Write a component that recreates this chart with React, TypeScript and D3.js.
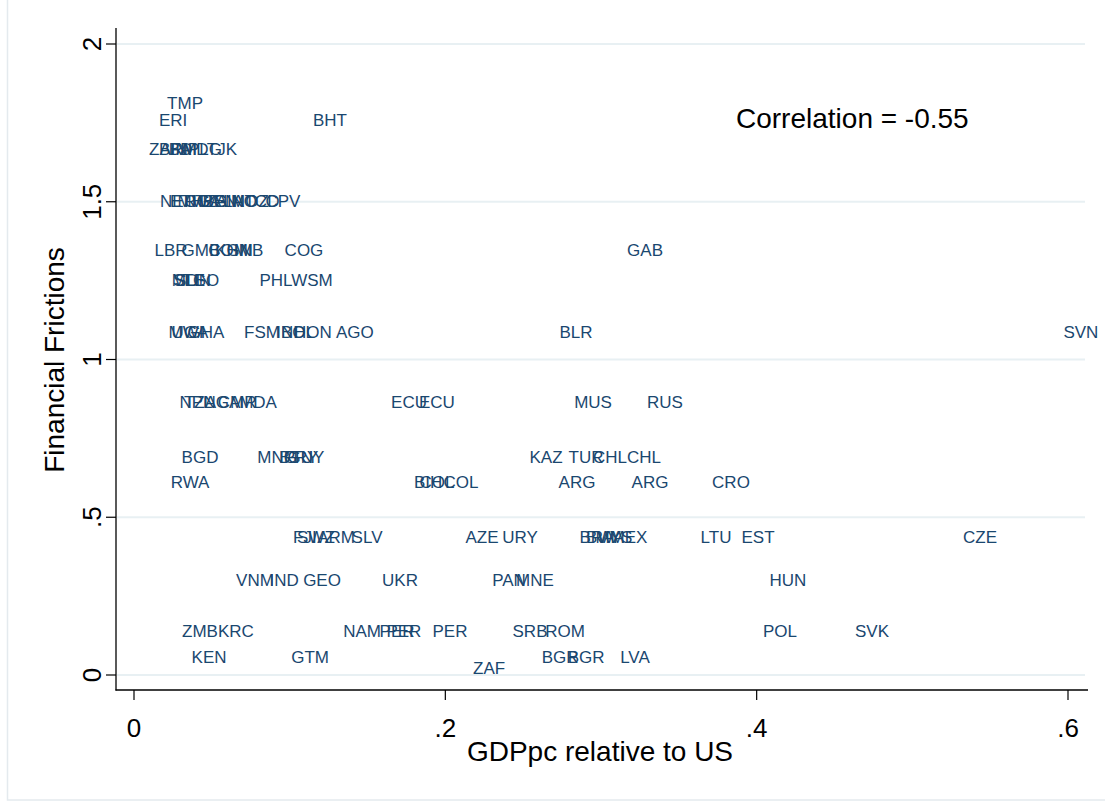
import React from "react";
import * as d3 from "d3";

const codes: string[] = [
  "TMP", "ERI", "BHT",
  "ZAR", "BFA", "BDI", "NPL", "MDG", "TJK",
  "NER", "ETH", "MWI", "UGA", "TZA", "BEN", "GIN", "LAO", "MOZ", "TCD", "CPV",
  "LBR", "GMB", "COM", "KHM", "GNB", "COG", "GAB",
  "MLI", "SLE", "SDN", "TGO", "PHL", "WSM",
  "MWI", "UGA", "GHA", "FSM", "IND", "BOL", "HON", "AGO", "BLR", "SVN",
  "NPL", "TZA", "NGA", "CMR", "MDA", "ECU", "ECU", "MUS", "RUS",
  "BGD", "MNG", "BTN", "PRY", "GUY", "KAZ", "TUR", "CHL", "CHL",
  "RWA", "BIH", "COL", "COL", "ARG", "ARG", "CRO",
  "FJI", "SWZ", "ARM", "SLV", "AZE", "URY", "BRA", "BWA", "MYS", "MEX", "LTU", "EST", "CZE",
  "VNM", "IND", "GEO", "UKR", "PAN", "MNE", "HUN",
  "ZMB", "KRC", "NAM", "PER", "PER", "PER", "SRB", "ROM", "POL", "SVK",
  "KEN", "GTM", "BGR", "BGR", "LVA",
  "ZAF",
];

const gdppc: number[] = [
  0.0328, 0.0251, 0.1259,
  0.0206, 0.0263, 0.0315, 0.0373, 0.0437, 0.0565,
  0.0283, 0.0340, 0.0392, 0.0443, 0.0495, 0.0552, 0.0610, 0.0681, 0.0745, 0.0822, 0.0957,
  0.0238, 0.0430, 0.0604, 0.0642, 0.0713, 0.1092, 0.3283,
  0.0334, 0.0353, 0.0379, 0.0430, 0.0912, 0.1143,
  0.0334, 0.0360, 0.0462, 0.0822, 0.1008, 0.1053, 0.1149, 0.1419, 0.2839, 0.6083,
  0.0398, 0.0424, 0.0565, 0.0662, 0.0797, 0.1767, 0.1946, 0.2949, 0.3411,
  0.0424, 0.0919, 0.1041, 0.1073, 0.1105, 0.2647, 0.2904, 0.3058, 0.3276,
  0.0360, 0.1889, 0.1946, 0.2101, 0.2846, 0.3315, 0.3835,
  0.1098, 0.1169, 0.1298, 0.1497, 0.2236, 0.2480, 0.2974, 0.3026, 0.3083, 0.3180, 0.3739, 0.4009, 0.5435,
  0.0777, 0.0964, 0.1208, 0.1709, 0.2409, 0.2576, 0.4201,
  0.0424, 0.0655, 0.1465, 0.1690, 0.1734, 0.2030, 0.2544, 0.2769, 0.4150, 0.4741,
  0.0482, 0.1131, 0.2737, 0.2904, 0.3218,
  0.2281,
];

const frictions: number[] = [
  1.81, 1.756, 1.756,
  1.667, 1.667, 1.667, 1.667, 1.667, 1.667,
  1.5, 1.5, 1.5, 1.5, 1.5, 1.5, 1.5, 1.5, 1.5, 1.5, 1.5,
  1.347, 1.347, 1.347, 1.347, 1.347, 1.347, 1.347,
  1.249, 1.249, 1.249, 1.249, 1.249, 1.249,
  1.087, 1.087, 1.087, 1.087, 1.087, 1.087, 1.087, 1.087, 1.087, 1.087,
  0.865, 0.865, 0.865, 0.865, 0.865, 0.865, 0.865, 0.865, 0.865,
  0.688, 0.688, 0.688, 0.688, 0.688, 0.688, 0.688, 0.688, 0.688,
  0.609, 0.609, 0.609, 0.609, 0.609, 0.609, 0.609,
  0.437, 0.437, 0.437, 0.437, 0.437, 0.437, 0.437, 0.437, 0.437, 0.437, 0.437, 0.437, 0.437,
  0.298, 0.298, 0.298, 0.298, 0.298, 0.298, 0.298,
  0.139, 0.139, 0.139, 0.139, 0.139, 0.139, 0.139, 0.139, 0.139, 0.139,
  0.057, 0.057, 0.057, 0.057, 0.057,
  0.022,
];

const xTicks: number[] = [0, 0.2, 0.4, 0.6];
const xTickLabels: string[] = ["0", ".2", ".4", ".6"];
const yTicks: number[] = [0, 0.5, 1, 1.5, 2];
const yTickLabels: string[] = ["0", ".5", "1", "1.5", "2"];

const xTitle = "GDPpc relative to US";
const yTitle = "Financial Frictions";
const note = "Correlation = -0.55";

export default function App() {
  const W = 1105;
  const H = 803;
  const x = d3.scaleLinear().domain([0, 0.6]).range([134, 1068]);
  const y = d3.scaleLinear().domain([0, 2]).range([675, 44]);
  const axisX = 116;
  const axisY = 690;
  const font = "'Liberation Sans', Arial, Helvetica, sans-serif";
  const labelColor = "#1a476f";

  return (
    <svg
      width={W}
      height={H}
      style={{ position: "absolute", left: 0, top: 0, background: "#fff" }}
      fontFamily={font}
    >
      <rect x={7.5} y={-1} width={1100} height={801} fill="#fff" stroke="#e4eaee" strokeWidth={1.5} />
      {yTicks.map((t, i) => (
        <line key={"g" + i} x1={axisX + 1} x2={1085} y1={y(t)} y2={y(t)} stroke="#e8f0f3" strokeWidth={2} />
      ))}
      {codes.map((c, i) => (
        <text
          key={"l" + i}
          x={x(gdppc[i])}
          y={y(frictions[i])}
          textAnchor="middle"
          dominantBaseline="central"
          fontSize={17}
          fill={labelColor}
        >
          {c}
        </text>
      ))}
      <line x1={axisX} x2={axisX} y1={28} y2={axisY + 0.5} stroke="#000" strokeWidth={1.3} />
      <line x1={axisX - 0.5} x2={1088} y1={axisY} y2={axisY} stroke="#000" strokeWidth={1.3} />
      {yTicks.map((t, i) => (
        <g key={"yt" + i}>
          <line x1={axisX - 10} x2={axisX} y1={y(t)} y2={y(t)} stroke="#000" strokeWidth={1.2} />
          <text
            transform={`translate(${axisX - 15},${y(t)}) rotate(-90)`}
            textAnchor="middle"
            fontSize={26}
            fill="#000"
          >
            {yTickLabels[i]}
          </text>
        </g>
      ))}
      {xTicks.map((t, i) => (
        <g key={"xt" + i}>
          <line x1={x(t)} x2={x(t)} y1={axisY} y2={axisY + 10} stroke="#000" strokeWidth={1.2} />
          <text x={x(t)} y={axisY + 47} textAnchor="middle" fontSize={26} fill="#000">
            {xTickLabels[i]}
          </text>
        </g>
      ))}
      <text x={600} y={761} textAnchor="middle" fontSize={28} fill="#000">
        {xTitle}
      </text>
      <text transform={`translate(64,360) rotate(-90)`} textAnchor="middle" fontSize={28} fill="#000">
        {yTitle}
      </text>
      <text x={736} y={128} fontSize={28} fill="#000">
        {note}
      </text>
    </svg>
  );
}
